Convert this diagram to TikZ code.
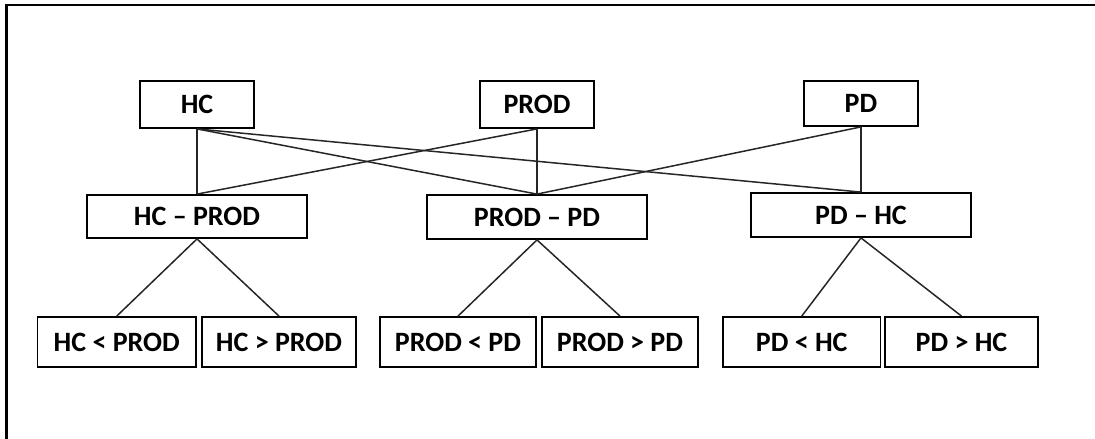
\documentclass[tikz,border=0pt]{standalone}
\usepackage{fontspec}
\setmainfont{Carlito}
\begin{document}
\begin{tikzpicture}[x=1pt,y=-1pt,
  box/.style={draw=black,line width=1.8pt,inner sep=0pt,
    font=\fontsize{28}{32}\selectfont\bfseries,text=black},
  link/.style={draw=black!85,line width=1.5pt}]
\useasboundingbox (0,0) rectangle (1095,439);
\draw[line width=2.6pt] (6.5,445) -- (6.5,5) -- (1100,5);
% top row
\node[box,minimum width=114pt,minimum height=47pt] (hc) at (197,104.5) {HC};
\node[box,minimum width=114pt,minimum height=47pt] (prod) at (537,104.5) {PROD};
\node[box,minimum width=114pt,minimum height=45pt] (pd) at (861,103.5) {PD};
% middle row
\node[box,minimum width=220pt,minimum height=43pt] (hcprod) at (197,216.5) {HC – PROD};
\node[box,minimum width=220pt,minimum height=44pt] (prodpd) at (537,217) {PROD – PD};
\node[box,minimum width=220pt,minimum height=44pt] (pdhc) at (861,215) {PD – HC};
% bottom row
\node[box,minimum width=158.5pt,minimum height=50pt] (b1) at (116.75,342) {HC < PROD};
\node[box,minimum width=154pt,minimum height=50pt] (b2) at (279,342) {HC > PROD};
\node[box,minimum width=156pt,minimum height=50pt] (b3) at (458,342) {PROD < PD};
\node[box,minimum width=156pt,minimum height=50pt] (b4) at (620,342) {PROD > PD};
\node[box,minimum width=157.5pt,minimum height=50pt] (b5) at (801.75,342) {PD < HC};
\node[box,minimum width=153pt,minimum height=50pt] (b6) at (961.5,342) {PD > HC};
% connectors top to middle
\draw[link] (hc.south) -- (hcprod.north);
\draw[link] (hc.south) -- (prodpd.north);
\draw[link] (hc.south) -- (pdhc.north);
\draw[link] (prod.south) -- (prodpd.north);
\draw[link] (prod.south) -- (hcprod.north);
\draw[link] (pd.south) -- (pdhc.north);
\draw[link] (pd.south) -- (prodpd.north);
% connectors middle to bottom
\draw[link] (hcprod.south) -- (b1.north);
\draw[link] (hcprod.south) -- (b2.north);
\draw[link] (prodpd.south) -- (b3.north);
\draw[link] (prodpd.south) -- (b4.north);
\draw[link] (pdhc.south) -- (b5.north);
\draw[link] (pdhc.south) -- (b6.north);
\end{tikzpicture}
\end{document}
